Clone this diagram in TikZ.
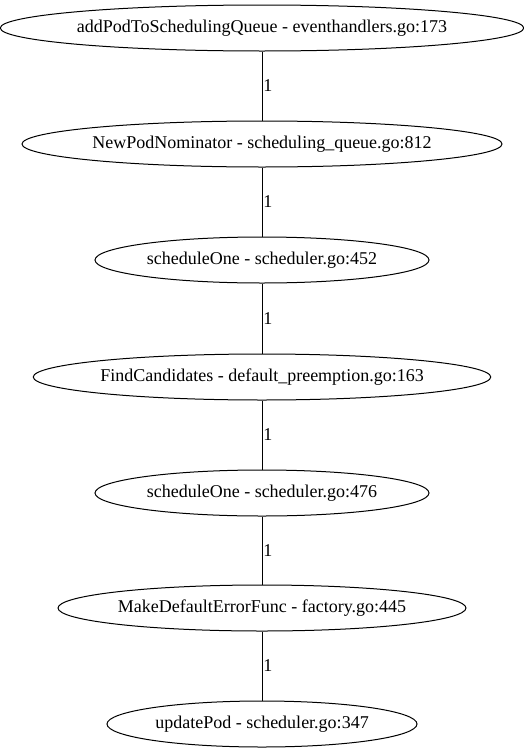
\documentclass[tikz,border=0pt]{standalone}
\usepackage{fontspec}
\setmainfont{Liberation Serif}
\usetikzlibrary{shapes.geometric}
\definecolor{ink}{HTML}{000000}

\tikzset{
  fn/.style={ellipse,draw=ink,line width=1pt,inner sep=0pt,minimum height=46pt,font=\fontsize{18}{20}\selectfont},
  call/.style={draw=ink,line width=0.9pt},
  cnt/.style={right,inner sep=1pt,font=\fontsize{18}{20}\selectfont}
}

\begin{document}
\begin{tikzpicture}[x=1pt,y=-1pt]
  \useasboundingbox (0,0) rectangle (524,755);
  \node[fn,minimum width=516pt] (q)  at (262,28)  {addPodToSchedulingQueue - eventhandlers.go:173};
  \node[fn,minimum width=472pt] (nom) at (262,144) {NewPodNominator - scheduling\_queue.go:812};
  \node[fn,minimum width=334pt] (s1) at (262,260) {scheduleOne - scheduler.go:452};
  \node[fn,minimum width=452pt] (fc) at (262,377) {FindCandidates - default\_preemption.go:163};
  \node[fn,minimum width=334pt] (s2) at (262,493) {scheduleOne - scheduler.go:476};
  \node[fn,minimum width=408pt] (err) at (262,608) {MakeDefaultErrorFunc - factory.go:445};
  \node[fn,minimum width=310pt] (up) at (262,724) {updatePod - scheduler.go:347};
  % call edges
  \foreach \a/\b in {q/nom,nom/s1,s1/fc,fc/s2,s2/err,err/up}
    \draw[call] (\a) -- node[cnt] {1} (\b);
\end{tikzpicture}
\end{document}
